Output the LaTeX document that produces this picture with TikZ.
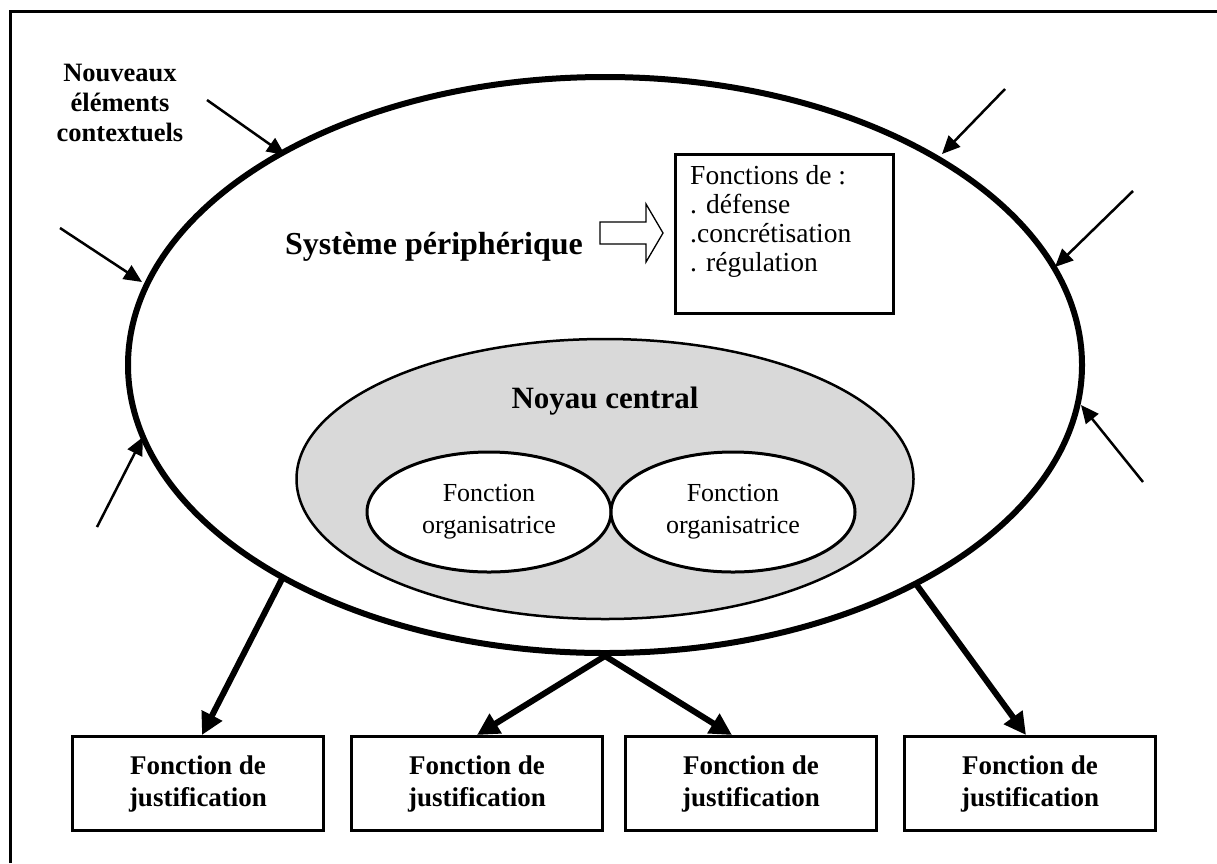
\documentclass[tikz,border=0pt]{standalone}
\usepackage{fontspec}
\setmainfont{Liberation Serif}
\usetikzlibrary{shapes.geometric,arrows.meta}
\definecolor{coregray}{RGB}{217,217,217}
\begin{document}
\begin{tikzpicture}[x=1pt,y=-1pt,
  thinarrow/.style={line width=2.5pt,-{Triangle[length=18pt,width=16pt]}},
  thickarrow/.style={line width=6pt,-{Triangle[length=22pt,width=22pt]}},
  jbox/.style={draw,line width=3pt,minimum width=251pt,minimum height=94pt,inner sep=0pt,align=center,font=\fontsize{27}{32}\selectfont\bfseries},
  orgell/.style={draw,ellipse,fill=white,line width=3pt,minimum width=244pt,minimum height=120pt,inner sep=0pt,align=center,font=\fontsize{26}{32}\selectfont},
  lbl/.style={inner sep=0pt,align=center}
]
\useasboundingbox (0,0) rectangle (1217,863);
% frame
\draw[line width=3pt] (10,863) -- (10,11) -- (1217,11);
% big ellipse
\node[draw,ellipse,line width=6pt,minimum width=954pt,minimum height=576pt,inner sep=0pt] (big) at (605,365) {};
% core
\node[draw,ellipse,fill=coregray,line width=2.5pt,minimum width=617pt,minimum height=280pt,inner sep=0pt] (core) at (605,479) {};
\node[lbl,anchor=base,font=\fontsize{31}{34}\selectfont\bfseries] (noyau) at (605,408) {Noyau central};
\node[orgell] (org1) at (489,512) {Fonction\\organisatrice};
\node[orgell] (org2) at (733,512) {Fonction\\organisatrice};
% peripheral system
\node[lbl,anchor=base,font=\fontsize{32}{36}\selectfont\bfseries] (syst) at (434,254) {Système périphérique};
\draw[line width=1.3pt] (600,222) -- (646,222) -- (646,204) -- (663,233) -- (646,262) -- (646,244) -- (600,244) -- cycle;
\node[draw,line width=3pt,minimum width=218pt,minimum height=159pt,inner sep=0pt] (fbox) at (784,233.5) {};
\node[lbl,anchor=north west,align=left,font=\fontsize{27.5}{29}\selectfont] (ftext) at (690,165) {Fonctions de :\\. défense\\.concrétisation\\. régulation};
% context label
\node[lbl,font=\fontsize{26.5}{30}\selectfont\bfseries] (ctx) at (120,103) {Nouveaux\\éléments\\contextuels};
% thin arrows
\coordinate (s1) at (207,100); \coordinate (t1) at (285,155);
\coordinate (s2) at (60,228);  \coordinate (t2) at (142,282);
\coordinate (s3) at (97,527);  \coordinate (t3) at (143,437);
\coordinate (s4) at (1005,89); \coordinate (t4) at (942,154);
\coordinate (s5) at (1133,191); \coordinate (t5) at (1055,267);
\coordinate (s6) at (1143,482); \coordinate (t6) at (1081,405);
\draw[thinarrow] (s1) -- (t1);
\draw[thinarrow] (s2) -- (t2);
\draw[thinarrow] (s3) -- (t3);
\draw[thinarrow] (s4) -- (t4);
\draw[thinarrow] (s5) -- (t5);
\draw[thinarrow] (s6) -- (t6);
% justification boxes
\node[jbox,anchor=north] (j1) at (198,735) {Fonction de\\justification};
\node[jbox,anchor=north] (j2) at (477,735) {Fonction de\\justification};
\node[jbox,anchor=north] (j3) at (751,735) {Fonction de\\justification};
\node[jbox,anchor=north] (j4) at (1030,735) {Fonction de\\justification};
% thick arrows
\coordinate (b1) at (283,577);
\coordinate (b4) at (916,584);
\draw[thickarrow] (b1) -- (j1.north -| 202,0);
\draw[thickarrow] (big.south) -- (j2.north);
\draw[thickarrow] (big.south) -- (j3.north -| 732,0);
\draw[thickarrow] (b4) -- (j4.north -| 1026,0);
\end{tikzpicture}
\end{document}
